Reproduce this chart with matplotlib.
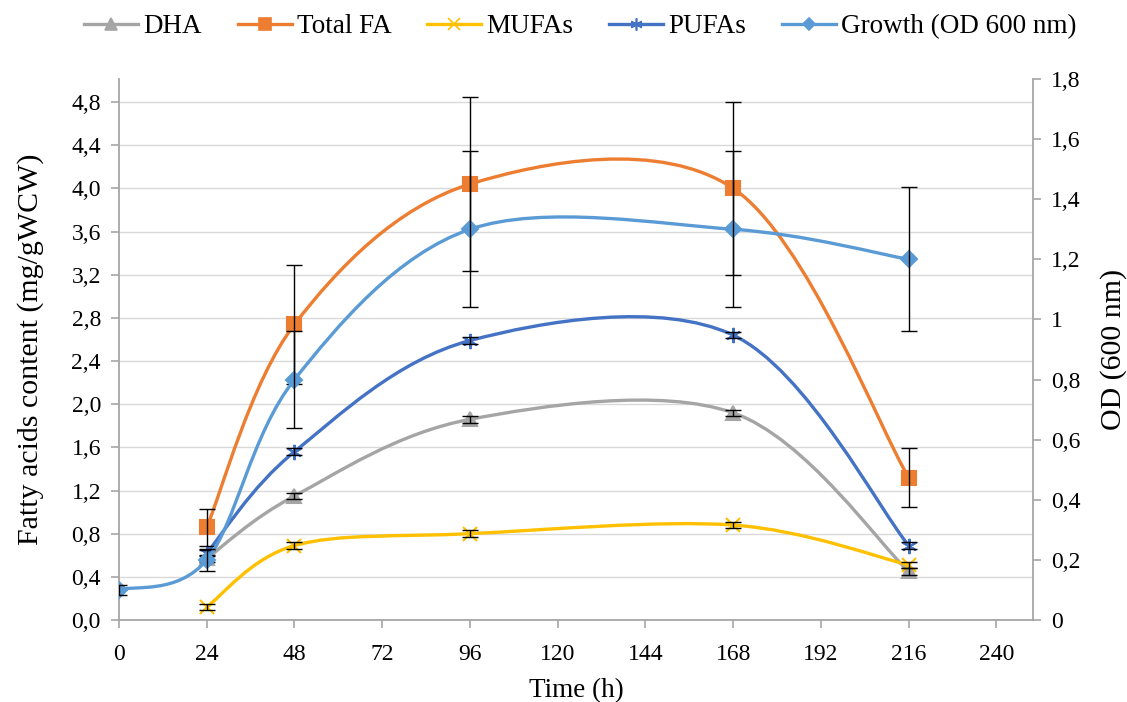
import matplotlib.pyplot as plt
from matplotlib.path import Path
from matplotlib.patches import PathPatch
from matplotlib.ticker import FuncFormatter

plt.rcParams['font.family'] = ['Liberation Serif', 'DejaVu Serif']

time_fa = [24, 48, 96, 168, 216]
dha = [0.57, 1.15, 1.86, 1.92, 0.45]
dha_err = [0.03, 0.03, 0.03, 0.03, 0.03]
total_fa = [0.86, 2.74, 4.04, 4.0, 1.32]
total_fa_err = [0.17, 0.55, 0.81, 0.80, 0.27]
mufas = [0.12, 0.69, 0.80, 0.88, 0.51]
mufas_err = [0.03, 0.03, 0.03, 0.03, 0.03]
pufas = [0.62, 1.56, 2.59, 2.64, 0.69]
pufas_err = [0.03, 0.03, 0.03, 0.03, 0.03]

time_od = [0, 24, 48, 96, 168, 216]
growth = [0.1, 0.2, 0.8, 1.3, 1.3, 1.2]
growth_err = [0.018, 0.037, 0.16, 0.26, 0.26, 0.24]

x_ticks = [0, 24, 48, 72, 96, 120, 144, 168, 192, 216, 240]


def smooth_path(xs, ys):
    # excel style smoothed line, one cubic bezier per segment
    pts = list(zip(xs, ys))
    n = len(pts)
    verts = [pts[0]]
    codes = [Path.MOVETO]
    for i in range(n - 1):
        p0 = pts[max(i - 1, 0)]
        p1 = pts[i]
        p2 = pts[i + 1]
        p3 = pts[min(i + 2, n - 1)]
        c1 = (p1[0] + (p2[0] - p0[0]) / 6, p1[1] + (p2[1] - p0[1]) / 6)
        c2 = (p2[0] - (p3[0] - p1[0]) / 6, p2[1] - (p3[1] - p1[1]) / 6)
        verts += [c1, c2, p2]
        codes += [Path.CURVE4] * 3
    return Path(verts, codes)


fig = plt.figure(figsize=(11.27, 7.02), dpi=100)
ax = fig.add_axes([119 / 1127, 82 / 702, (1033 - 119) / 1127, (620 - 79) / 702])
ax2 = ax.twinx()

axis_col = '#A6A6A6'
series = [
    ('DHA', time_fa, dha, dha_err, '#A5A5A5', '^', 10, ax),
    ('Total FA', time_fa, total_fa, total_fa_err, '#ED7D31', 's', 10, ax),
    ('MUFAs', time_fa, mufas, mufas_err, '#FFC000', 'x', 10, ax),
    ('PUFAs', time_fa, pufas, pufas_err, '#4472C4', (6, 2, 0), 11, ax),
    ('Growth (OD 600 nm)', time_od, growth, growth_err, '#5B9BD5', 'D', 8, ax2),
]

handles = []
for name, xs, ys, err, col, mk, ms, a in series:
    a.add_patch(PathPatch(smooth_path(xs, ys), fill=False, edgecolor=col,
                          lw=2.4, capstyle='round', zorder=2))
    a.plot(xs, ys, ls='none', marker=mk, ms=ms, color=col, mew=1.5, zorder=3)
    a.errorbar(xs, ys, yerr=err, fmt='none', ecolor='black', elinewidth=1,
               capsize=6, capthick=1, zorder=4)
    h, = a.plot([], [], color=col, lw=2.4, marker=mk, ms=ms * 0.8, mew=1.2, label=name)
    handles.append(h)

ax.set_xlim(0, 250)
ax.set_ylim(0, 5.014)
ax2.set_ylim(0, 1.8)
ax.set_xticks(x_ticks)
ax.set_yticks([i * 0.4 for i in range(13)])
ax2.set_yticks([i * 0.2 for i in range(10)])
ax.yaxis.set_major_formatter(FuncFormatter(lambda v, p: f'{v:.1f}'.replace('.', ',')))
ax2.yaxis.set_major_formatter(FuncFormatter(lambda v, p: f'{round(v, 1):g}'.replace('.', ',')))

ax.grid(axis='y', color='#D9D9D9', lw=1)
ax.set_axisbelow(True)

for a in (ax, ax2):
    a.spines['top'].set_visible(False)
    for s in ('left', 'right', 'bottom'):
        a.spines[s].set_color(axis_col)
        a.spines[s].set_linewidth(1.3)
    a.tick_params(labelsize=17, length=6, color=axis_col, width=1.2, pad=7)
ax.tick_params(axis='x', pad=11)
ax.spines['right'].set_visible(False)
ax2.spines['left'].set_visible(False)
ax2.spines['bottom'].set_visible(False)

ax.set_xlabel('Time (h)', fontsize=19.5, labelpad=10)
ax.set_ylabel('Fatty acids content (mg/gWCW)', fontsize=21.5, labelpad=20)
ax2.set_ylabel('OD (600 nm)', fontsize=21.5, rotation=90, labelpad=14)

fig.legend(handles=handles, loc='center', bbox_to_anchor=(0.515, 0.962), ncol=5,
           frameon=False, fontsize=19.5, handlelength=2.0, columnspacing=1.3,
           handletextpad=0.2)

fig.savefig('out.png', dpi=100)
